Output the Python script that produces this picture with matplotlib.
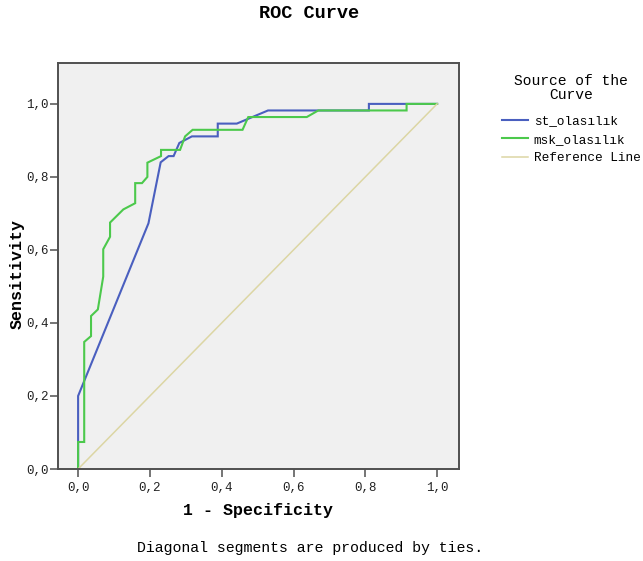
import matplotlib
matplotlib.use("Agg")
import matplotlib.pyplot as plt
from matplotlib.ticker import FuncFormatter

# ---- data ----
series_names = ["st_olasılık", "msk_olasılık", "Reference Line"]

st_fpr = [0.0, 0.0, 0.196, 0.230, 0.252, 0.266, 0.282, 0.317, 0.389, 0.389,
          0.442, 0.529, 0.810, 0.810, 1.0]
st_tpr = [0.0, 0.200, 0.673, 0.840, 0.857, 0.857, 0.893, 0.911, 0.911, 0.946,
          0.946, 0.982, 0.982, 1.0, 1.0]

msk_fpr = [0.0, 0.0, 0.017, 0.017, 0.036, 0.036, 0.055, 0.070, 0.070, 0.089,
           0.089, 0.126, 0.159, 0.159, 0.178, 0.193, 0.193, 0.231, 0.231, 0.284,
           0.298, 0.319, 0.458, 0.474, 0.637, 0.669, 0.915, 0.915, 1.0]
msk_tpr = [0.0, 0.074, 0.074, 0.348, 0.364, 0.419, 0.437, 0.527, 0.602, 0.636,
           0.675, 0.711, 0.728, 0.783, 0.783, 0.800, 0.839, 0.857, 0.874, 0.874,
           0.911, 0.929, 0.929, 0.964, 0.964, 0.982, 0.982, 1.0, 1.0]

ref_x = [0.0, 1.0]
ref_y = [0.0, 1.0]

ticks = [0.0, 0.2, 0.4, 0.6, 0.8, 1.0]

title = "ROC Curve"
xlabel = "1 - Specificity"
ylabel = "Sensitivity"
legend_title = "Source of the\nCurve"
footnote = "Diagonal segments are produced by ties."

# ---- styling ----
FONT = "Liberation Mono"
plt.rcParams["font.family"] = [FONT, "DejaVu Sans Mono", "DejaVu Sans"]

blue = "#4a5fbf"
green = "#4cc94c"
beige = "#dcd6a4"
frame = "#505050"

W, H = 643, 561
fig = plt.figure(figsize=(W / 100, H / 100), dpi=100)
ax = fig.add_axes([58 / W, 1 - 469 / H, (459 - 58) / W, (469 - 63) / H])
ax.set_facecolor("#f0f0f0")

l1, = ax.plot(st_fpr, st_tpr, color=blue, lw=1.5, solid_joinstyle="miter")
l2, = ax.plot(msk_fpr, msk_tpr, color=green, lw=1.5, solid_joinstyle="miter")
l3, = ax.plot(ref_x, ref_y, color=beige, lw=1.1)

ax.set_xlim(-0.056, 1.061)
ax.set_ylim(0.0, 1.112)
ax.set_xticks(ticks)
ax.set_yticks(ticks)
fmt = FuncFormatter(lambda v, p: f"{v:.1f}".replace(".", ","))
ax.xaxis.set_major_formatter(fmt)
ax.yaxis.set_major_formatter(fmt)
ax.tick_params(axis="both", direction="out", length=5.5, width=1.1, color=frame,
               labelsize=9, labelcolor="#222222")
ax.tick_params(axis="x", pad=4)
ax.tick_params(axis="y", pad=1)

for s in ax.spines.values():
    s.set_color(frame)
    s.set_linewidth(1.4)

ax.set_xlabel(xlabel, fontsize=12, fontweight="bold")
ax.set_ylabel(ylabel, fontsize=12, fontweight="bold")
ax.xaxis.set_label_coords(258 / W, 1 - 503 / H, transform=fig.transFigure)
ax.yaxis.set_label_coords(25 / W, 1 - 274 / H, transform=fig.transFigure)

fig.text(309 / W, 1 - 14 / H, title, ha="center", va="center",
         fontsize=13.4, fontweight="bold")
fig.text(310 / W, 1 - 548 / H, footnote, ha="center", va="center",
         fontsize=10.7)

fig.text(571 / W, 1 - 88 / H, legend_title, ha="center", va="center",
         multialignment="center", fontsize=10.5, linespacing=0.95)

leg = ax.legend([l1, l2, l3], series_names,
                loc="upper left", bbox_to_anchor=(502 / W, 1 - 115 / H),
                bbox_transform=fig.transFigure, frameon=False,
                fontsize=9.2, handlelength=2.03,
                handletextpad=0.45, labelspacing=0.52, borderpad=0,
                borderaxespad=0)

fig.savefig("out.png", dpi=100)
